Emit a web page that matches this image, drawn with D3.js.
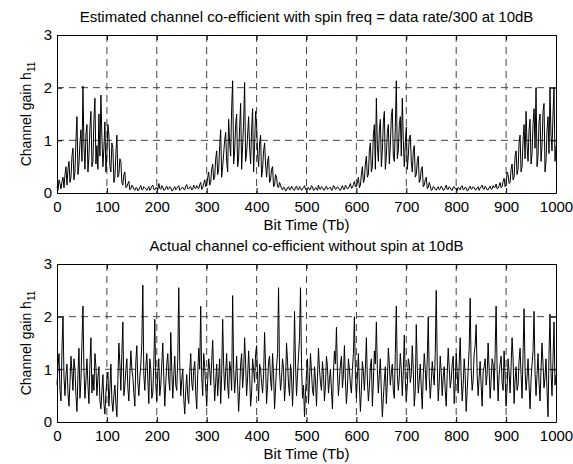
<!DOCTYPE html>
<html>
<head>
<meta charset="utf-8">
<script src="https://cdn.jsdelivr.net/npm/d3@7"></script>
<style>
  body { margin: 0; background: #fff; }
  svg { display: block; font-family: "Liberation Sans", Arial, sans-serif; }
</style>
</head>
<body>
<svg id="chart" width="573" height="464"></svg>
<script>
// Sampling grid of the traces (bit times 0, 2, 4, ... 1000)
const bitStep = 2;

const xTicks = [0, 100, 200, 300, 400, 500, 600, 700, 800, 900, 1000];
const yTicks = [0, 1, 2, 3];

// Estimated channel gain, spin freq = data rate/300
const estimatedGain = [
  0.12, 0.05, 0.25, 0.18, 0.08, 0.22, 0.3, 0.1, 0.35, 0.5, 0.15, 0.45, 0.6, 0.2, 0.3, 0.7, 0.85, 0.25, 0.4, 1.0,
  1.45, 0.35, 0.55, 0.95, 1.2, 0.6, 2.03, 0.9, 0.45, 1.1, 1.3, 0.4, 0.7, 1.25, 1.55, 0.5, 0.6, 1.4, 1.8, 0.55,
  0.9, 0.45, 1.5, 0.7, 1.86, 1.05, 0.5, 0.85, 1.35, 0.4, 0.75, 1.3, 1.1, 0.5, 0.4, 0.95, 0.85, 0.2, 0.3, 0.75,
  1.1, 0.3, 0.35, 0.65, 0.6, 0.2, 0.15, 0.35, 0.4, 0.1, 0.12, 0.18, 0.22, 0.06, 0.08, 0.15, 0.12, 0.07, 0.05, 0.1,
  0.1, 0.04, 0.06, 0.11, 0.14, 0.06, 0.07, 0.12, 0.1, 0.08, 0.05, 0.09, 0.12, 0.05, 0.08, 0.13, 0.15, 0.07, 0.06, 0.1,
  0.1, 0.06, 0.18, 0.09, 0.07, 0.14, 0.11, 0.05, 0.06, 0.1, 0.13, 0.07, 0.08, 0.12, 0.1, 0.04, 0.05, 0.09, 0.12, 0.06,
  0.09, 0.12, 0.14, 0.05, 0.07, 0.1, 0.11, 0.07, 0.06, 0.13, 0.16, 0.08, 0.08, 0.11, 0.12, 0.06, 0.07, 0.15, 0.1, 0.08,
  0.14, 0.1, 0.08, 0.16, 0.2, 0.07, 0.1, 0.18, 0.25, 0.12, 0.15, 0.3, 0.4, 0.15, 0.2, 0.45, 0.55, 0.25, 0.3, 0.65,
  0.8, 0.35, 0.45, 0.9, 1.2, 0.3, 0.5, 0.75, 1.0, 1.15, 0.6, 0.4, 1.4, 0.95, 0.7, 1.6, 2.13, 0.55, 0.8, 1.3,
  1.5, 0.5, 0.65, 1.25, 1.7, 0.45, 0.9, 1.35, 2.1, 0.6, 0.75, 1.1, 1.45, 0.85, 0.55, 1.2, 1.6, 0.4, 0.9, 1.55,
  1.3, 0.75, 0.5, 0.95, 1.1, 0.3, 0.45, 0.8, 0.95, 0.55, 0.3, 0.6, 0.7, 0.2, 0.25, 0.45, 0.5, 0.12, 0.15, 0.35,
  0.3, 0.12, 0.1, 0.2, 0.15, 0.08, 0.06, 0.11, 0.1, 0.04, 0.05, 0.1, 0.12, 0.06, 0.07, 0.13, 0.09, 0.06, 0.05, 0.11,
  0.13, 0.07, 0.06, 0.12, 0.1, 0.05, 0.08, 0.1, 0.14, 0.07, 0.05, 0.09, 0.11, 0.06, 0.07, 0.14, 0.12, 0.05, 0.06, 0.1,
  0.09, 0.05, 0.15, 0.08, 0.07, 0.12, 0.1, 0.06, 0.05, 0.11, 0.13, 0.07, 0.08, 0.1, 0.11, 0.05, 0.06, 0.14, 0.12, 0.07,
  0.08, 0.12, 0.1, 0.06, 0.05, 0.1, 0.14, 0.07, 0.07, 0.15, 0.12, 0.08, 0.09, 0.13, 0.18, 0.09, 0.1, 0.16, 0.22, 0.12,
  0.12, 0.2, 0.3, 0.1, 0.15, 0.35, 0.5, 0.2, 0.25, 0.55, 0.7, 0.3, 0.35, 0.8, 0.95, 0.4, 0.5, 1.1, 1.3, 0.45,
  1.8, 0.9, 0.6, 1.2, 1.4, 0.5, 0.8, 1.35, 1.55, 0.45, 0.7, 1.15, 1.3, 0.55, 0.9, 1.45, 1.6, 0.7, 0.6, 1.25,
  2.13, 0.65, 0.8, 1.3, 1.45, 0.7, 1.8, 1.0, 0.5, 0.95, 1.25, 0.45, 0.7, 1.05, 1.1, 0.6, 0.4, 0.8, 0.9, 0.3,
  0.35, 0.6, 0.7, 0.2, 0.25, 0.45, 0.5, 0.12, 0.15, 0.25, 0.3, 0.08, 0.1, 0.2, 0.14, 0.05, 0.06, 0.12, 0.11, 0.07,
  0.05, 0.09, 0.12, 0.06, 0.08, 0.13, 0.1, 0.05, 0.06, 0.1, 0.15, 0.07, 0.07, 0.12, 0.1, 0.06, 0.05, 0.11, 0.12, 0.08,
  0.08, 0.05, 0.11, 0.09, 0.06, 0.12, 0.14, 0.06, 0.07, 0.11, 0.1, 0.04, 0.05, 0.1, 0.13, 0.07, 0.08, 0.12, 0.1, 0.06,
  0.06, 0.1, 0.12, 0.05, 0.09, 0.12, 0.15, 0.08, 0.07, 0.13, 0.11, 0.06, 0.06, 0.1, 0.13, 0.07, 0.08, 0.14, 0.1, 0.11,
  0.17, 0.08, 0.09, 0.14, 0.2, 0.1, 0.12, 0.22, 0.28, 0.12, 0.15, 0.4, 0.35, 0.18, 0.2, 0.45, 0.55, 0.25, 0.3, 0.7,
  0.8, 0.35, 0.45, 0.95, 1.1, 0.4, 0.5, 1.0, 1.3, 0.65, 1.55, 0.9, 0.6, 1.2, 1.4, 0.55, 0.75, 1.3, 1.6, 0.85,
  2.0, 0.5, 0.7, 1.35, 1.5, 0.6, 0.9, 1.55, 1.7, 0.4, 0.6, 1.2, 1.45, 0.75, 2.0, 1.1, 0.8, 1.5, 2.0, 0.6,
  0.9
];

// Actual channel gain without spin
const actualGain = [
  0.7, 1.05, 1.3, 0.6, 0.4, 1.4, 2.0, 0.85, 0.5, 0.9, 1.1, 0.55, 0.3, 0.75, 1.25, 0.95, 0.6, 1.2, 1.0, 0.5,
  0.2, 0.9, 1.4, 0.45, 0.8, 1.5, 2.2, 1.0, 0.45, 0.8, 1.2, 0.7, 0.35, 1.1, 1.6, 0.55, 0.9, 0.6, 1.3, 1.05,
  0.5, 0.85, 1.05, 0.4, 0.25, 0.6, 0.9, 0.35, 0.15, 0.55, 0.8, 0.95, 0.3, 0.65, 1.1, 0.4, 0.2, 0.5, 0.7, 0.35,
  0.1, 0.8, 1.5, 1.1, 0.6, 1.3, 1.9, 0.5, 0.7, 1.0, 1.2, 0.65, 0.4, 0.9, 1.35, 1.0, 0.85, 0.55, 0.3, 1.15,
  1.45, 0.75, 0.5, 0.85, 1.1, 1.5, 2.6, 0.9, 0.6, 1.05, 1.3, 0.8, 0.35, 1.2, 1.0, 0.45, 0.55, 1.1, 1.95, 0.7,
  0.4, 0.95, 1.2, 0.5, 0.7, 1.1, 1.5, 0.85, 0.3, 0.75, 1.1, 1.3, 0.8, 0.6, 1.7, 1.0, 0.45, 0.9, 1.25, 0.7,
  0.6, 1.2, 2.55, 1.1, 0.5, 0.8, 1.0, 0.45, 0.15, 0.6, 0.9, 0.5, 0.35, 0.95, 1.3, 0.75, 0.6, 1.0, 1.15, 0.55,
  0.25, 0.9, 1.4, 1.0, 2.2, 0.85, 0.5, 1.3, 1.05, 0.65, 0.3, 0.8, 1.2, 1.0, 0.7, 1.15, 1.55, 0.9, 0.4, 0.75,
  1.1, 0.5, 0.85, 1.2, 0.35, 0.9, 1.95, 1.05, 0.6, 0.95, 1.3, 0.7, 0.45, 1.15, 1.0, 0.6, 2.4, 1.0, 0.55, 0.85,
  1.25, 0.7, 0.2, 0.6, 1.1, 1.3, 0.65, 0.95, 1.6, 1.1, 0.5, 0.85, 1.35, 0.9, 0.3, 0.55, 1.2, 1.0, 0.75, 1.3,
  1.45, 0.85, 0.4, 1.1, 1.0, 0.75, 0.55, 0.9, 1.7, 1.05, 0.35, 0.7, 1.15, 1.25, 0.8, 0.6, 1.3, 0.9, 0.25, 0.65,
  1.05, 1.3, 2.55, 0.95, 0.6, 0.85, 1.2, 1.0, 0.4, 0.75, 1.5, 1.15, 0.7, 0.5, 1.1, 0.9, 0.3, 0.8, 2.1, 1.1,
  0.5, 0.9, 1.25, 1.6, 2.55, 1.1, 0.45, 0.7, 0.1, 0.55, 0.9, 1.2, 0.35, 0.8, 1.3, 0.95, 0.6, 0.5, 1.05, 0.8,
  0.3, 0.85, 1.4, 1.0, 0.75, 0.6, 1.15, 0.9, 0.4, 0.7, 1.25, 1.05, 0.55, 0.8, 1.0, 0.6, 0.25, 0.95, 1.35, 1.1,
  1.8, 0.95, 0.5, 0.8, 1.1, 1.25, 0.65, 0.9, 1.45, 0.8, 0.35, 0.65, 1.2, 1.0, 0.7, 0.55, 1.0, 1.3, 2.0, 0.9,
  0.45, 0.85, 1.3, 0.7, 0.2, 0.6, 1.15, 0.95, 0.6, 1.0, 1.6, 0.8, 0.4, 0.65, 1.05, 1.2, 0.3, 0.75, 1.35, 1.1,
  1.9, 1.0, 0.55, 0.9, 1.2, 0.6, 0.1, 0.45, 0.8, 1.05, 0.35, 0.75, 1.4, 1.1, 0.7, 0.95, 1.1, 0.6, 0.45, 1.3,
  2.2, 0.9, 0.6, 0.85, 1.3, 1.0, 0.5, 0.95, 1.65, 0.8, 0.4, 0.7, 1.2, 1.1, 0.75, 0.9, 1.45, 1.0, 0.3, 0.6,
  1.85, 1.05, 0.55, 0.8, 1.1, 0.65, 0.25, 0.9, 1.3, 1.0, 0.6, 1.2, 2.0, 0.85, 0.45, 0.75, 1.15, 0.9, 0.7, 1.3,
  2.5, 1.1, 0.4, 0.75, 1.25, 0.95, 0.5, 0.85, 1.05, 0.6, 0.3, 0.9, 1.4, 1.05, 0.65, 0.8, 1.1, 1.25, 0.35, 0.7,
  1.3, 0.95, 0.55, 1.1, 1.6, 0.85, 0.4, 0.7, 1.2, 0.9, 0.2, 0.6, 1.0, 1.4, 2.35, 1.0, 0.6, 0.8, 1.3, 1.45,
  1.85, 0.9, 0.5, 0.85, 1.15, 0.7, 0.3, 0.95, 1.05, 1.2, 0.7, 0.9, 1.5, 1.0, 0.45, 0.8, 1.2, 1.1, 0.6, 1.3,
  2.2, 1.0, 0.4, 0.9, 1.1, 1.25, 0.75, 0.6, 1.35, 0.85, 0.3, 0.65, 1.2, 0.95, 0.55, 1.05, 1.6, 1.2, 0.35, 0.8,
  1.05, 0.6, 0.7, 1.15, 1.4, 0.9, 0.45, 1.3, 2.15, 1.0, 0.6, 0.85, 1.2, 0.7, 0.25, 0.8, 1.1, 1.35, 2.1, 0.95,
  0.5, 0.9, 1.3, 0.75, 0.4, 1.0, 1.5, 1.1, 0.65, 0.85, 1.2, 0.6, 0.1, 1.3, 2.05, 0.95, 0.5, 1.2, 1.9, 0.7,
  0.9
];

const panels = [
  { title: 'Estimated channel co-efficient with spin freq = data rate/300 at 10dB', values: estimatedGain, top: 35 },
  { title: 'Actual channel co-efficient without spin at 10dB', values: actualGain, top: 264 }
];

const svg = d3.select('#chart');
const left = 57;
const right = 556;
const plotHeight = 158;
const tickLen = 5;
const fontSize = 15;

const x = d3.scaleLinear().domain([0, 1000]).range([left, right]);

panels.forEach((p) => {
  const y = d3.scaleLinear().domain([0, 3]).range([p.top + plotHeight, p.top]);
  const g = svg.append('g');

  // dashed grid
  g.selectAll('line.vgrid')
    .data(xTicks.slice(1, -1))
    .enter().append('line')
    .attr('x1', (d) => x(d)).attr('x2', (d) => x(d))
    .attr('y1', y(3)).attr('y2', y(0))
    .attr('stroke', '#444').attr('stroke-width', 1)
    .attr('stroke-dasharray', '7,5');
  g.selectAll('line.hgrid')
    .data(yTicks.slice(1, -1))
    .enter().append('line')
    .attr('x1', left).attr('x2', right)
    .attr('y1', (d) => y(d)).attr('y2', (d) => y(d))
    .attr('stroke', '#444').attr('stroke-width', 1)
    .attr('stroke-dasharray', '7,5');

  // trace
  const line = d3.line()
    .x((d, i) => x(i * bitStep))
    .y((d) => y(d));
  g.append('path')
    .datum(p.values)
    .attr('d', line)
    .attr('fill', 'none')
    .attr('stroke', '#000')
    .attr('stroke-width', 1);

  // axes with inward ticks on all four sides (MATLAB box style)
  const bottomAxis = d3.axisBottom(x).tickValues(xTicks).tickFormat(d3.format('d'))
    .tickSizeInner(-tickLen).tickSizeOuter(0).tickPadding(8);
  const topAxis = d3.axisTop(x).tickValues(xTicks).tickFormat('')
    .tickSizeInner(-tickLen).tickSizeOuter(0);
  const leftAxis = d3.axisLeft(y).tickValues(yTicks).tickFormat(d3.format('d'))
    .tickSizeInner(-tickLen).tickSizeOuter(0).tickPadding(5);
  const rightAxis = d3.axisRight(y).tickValues(yTicks).tickFormat('')
    .tickSizeInner(-tickLen).tickSizeOuter(0);

  const axes = [
    g.append('g').attr('transform', `translate(0,${y(0)})`).call(bottomAxis),
    g.append('g').attr('transform', `translate(0,${y(3)})`).call(topAxis),
    g.append('g').attr('transform', `translate(${left},0)`).call(leftAxis),
    g.append('g').attr('transform', `translate(${right},0)`).call(rightAxis)
  ];
  axes.forEach((a) => {
    a.select('.domain').attr('stroke', '#000').attr('stroke-width', 1);
    a.selectAll('.tick line').attr('stroke', '#000');
    a.selectAll('.tick text').attr('fill', '#000').attr('font-size', fontSize)
      .attr('font-family', '"Liberation Sans", Arial, sans-serif');
  });

  // titles and labels
  g.append('text')
    .attr('x', (left + right) / 2).attr('y', p.top - 13)
    .attr('text-anchor', 'middle').attr('font-size', fontSize)
    .text(p.title);
  g.append('text')
    .attr('x', (left + right) / 2).attr('y', y(0) + 37)
    .attr('text-anchor', 'middle').attr('font-size', fontSize)
    .text('Bit Time (Tb)');

  const yl = g.append('text')
    .attr('transform', `translate(31,${p.top + plotHeight / 2}) rotate(-90)`)
    .attr('text-anchor', 'middle').attr('font-size', 14);
  yl.append('tspan').text('Channel gain h');
  yl.append('tspan').attr('font-size', 10).attr('dy', 4).text('11');
});
</script>
</body>
</html>
